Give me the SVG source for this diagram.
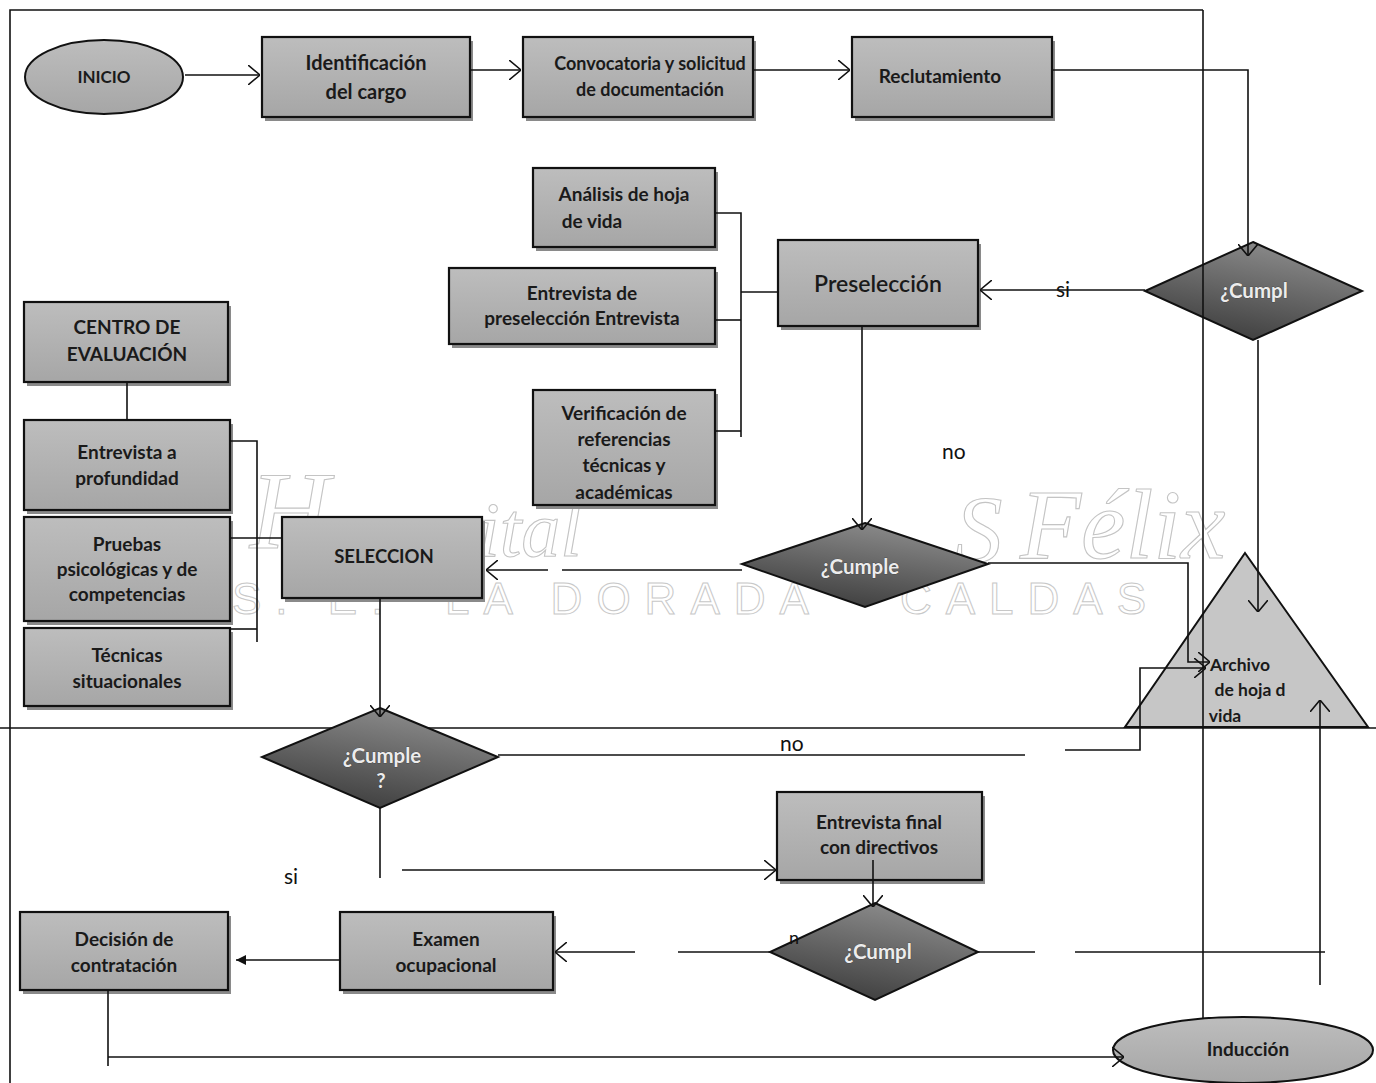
<svg xmlns="http://www.w3.org/2000/svg" width="1376" height="1083" viewBox="0 0 1376 1083">
<defs>
<style>
.box{fill:url(#boxg);stroke:#111;stroke-width:2.2}
.shadow{fill:#8a8a8a}
.dia{fill:url(#diag);stroke:#111;stroke-width:2}
.t{font-family:Lato,"Open Sans","Liberation Sans",sans-serif;font-weight:700;fill:#1a1a1a;text-anchor:middle;font-size:19px}
.dt{font-family:Lato,"Open Sans","Liberation Sans",sans-serif;font-weight:700;fill:#ececec;stroke:#333;stroke-width:0.6;paint-order:stroke;text-anchor:middle;font-size:20.5px}
.lbl{font-family:Lato,"Open Sans","Liberation Sans",sans-serif;font-weight:400;fill:#111;font-size:21px}
.c{fill:none;stroke:#111;stroke-width:1.6}
.wm{font-family:"Liberation Serif",serif;font-style:italic;fill:none;stroke:#c4c4c4;stroke-width:1.1}
.wm2{font-family:"Liberation Sans",sans-serif;fill:none;stroke:#c8c8c8;stroke-width:1}
</style>
<linearGradient id="boxg" x1="0" y1="0" x2="0" y2="1">
<stop offset="0" stop-color="#bdbdbd"/><stop offset="1" stop-color="#a6a6a6"/>
</linearGradient>
<linearGradient id="diag" x1="0.7" y1="0" x2="0.3" y2="1">
<stop offset="0" stop-color="#8e8e8e"/><stop offset="1" stop-color="#3c3c3c"/>
</linearGradient>
<marker id="arr" viewBox="0 0 12 20" refX="12" refY="10" markerWidth="12" markerHeight="20" markerUnits="userSpaceOnUse" orient="auto">
<path d="M0,0 L12,10 L0,20" fill="none" stroke="#111" stroke-width="1.6"/>
</marker>
<marker id="tri" viewBox="0 0 10 10" refX="10" refY="5" markerWidth="10" markerHeight="12" markerUnits="userSpaceOnUse" orient="auto">
<path d="M0,0 L10,5 L0,10 Z" fill="#111"/>
</marker>
<clipPath id="clipVer"><rect x="534" y="391" width="180" height="108"/></clipPath>
<clipPath id="clipArch"><rect x="1120" y="550" width="250" height="176"/></clipPath>
</defs>
<rect width="1376" height="1083" fill="#fff"/>

<g id="watermark">
<text class="wm" x="250" y="548" font-size="110">H</text>
<text class="wm" x="478" y="556" font-size="78">ital</text>
<text class="wm" x="955" y="562" font-size="95">S</text>
<text class="wm" x="1020" y="558" font-size="100">Félix</text>
<text class="wm2" x="232" y="614" font-size="44" letter-spacing="14">S. E.</text>
<text class="wm2" x="445" y="614" font-size="44" letter-spacing="14">LA DORADA</text>
<text class="wm2" x="900" y="614" font-size="44" letter-spacing="14">CALDAS</text>
</g>

<g id="frame">
<path class="c" d="M10,1083 V10 H1203"/>
<path class="c" d="M0,728 H1376"/>
</g>

<g id="inicio">
<ellipse cx="104" cy="77" rx="79" ry="37" fill="url(#boxg)" stroke="#111" stroke-width="2"/>
<text class="t" x="104" y="83" style="font-size:17px">INICIO</text>
</g>

<g id="identificacion">
<rect class="shadow" x="265" y="41" width="208" height="80"/>
<rect class="box" x="262" y="37" width="208" height="80"/>
<text class="t" x="366" y="70" style="font-size:20px">Identificación</text>
<text class="t" x="366" y="99" style="font-size:20px">del cargo</text>
</g>

<g id="convocatoria">
<rect class="shadow" x="526" y="41" width="230" height="80"/>
<rect class="box" x="523" y="37" width="230" height="80"/>
<text class="t" x="650" y="70" style="font-size:18px">Convocatoria y solicitud</text>
<text class="t" x="650" y="96" style="font-size:18px">de documentación</text>
</g>

<g id="reclutamiento">
<rect class="shadow" x="855" y="41" width="200" height="80"/>
<rect class="box" x="852" y="37" width="200" height="80"/>
<text class="t" x="940" y="83">Reclutamiento</text>
</g>

<g id="cumple1">
<polygon class="dia" points="1253,242 1362,291 1253,340 1145,291"/>
<text class="dt" x="1254" y="298">¿Cumpl</text>
</g>

<g id="preseleccion">
<rect class="shadow" x="781" y="244" width="200" height="86"/>
<rect class="box" x="778" y="240" width="200" height="86"/>
<text class="t" x="878" y="292" style="font-size:23px;font-weight:600">Preselección</text>
</g>

<g id="analisis">
<rect class="shadow" x="536" y="172" width="182" height="79"/>
<rect class="box" x="533" y="168" width="182" height="79"/>
<text class="t" x="624" y="201">Análisis  de  hoja</text>
<text class="t" x="592" y="228">de  vida</text>
</g>

<g id="entrevista-presel">
<rect class="shadow" x="452" y="272" width="266" height="76"/>
<rect class="box" x="449" y="268" width="266" height="76"/>
<text class="t" x="582" y="300">Entrevista de</text>
<text class="t" x="582" y="325">preselección  Entrevista</text>
</g>

<g id="verificacion">
<rect class="shadow" x="536" y="394" width="182" height="115"/>
<rect class="box" x="533" y="390" width="182" height="115"/>
<g clip-path="url(#clipVer)">
<text class="t" x="624" y="420">Verificación de</text>
<text class="t" x="624" y="446">referencias</text>
<text class="t" x="624" y="472">técnicas y</text>
<text class="t" x="624" y="499">académicas</text>
</g>
</g>

<g id="centro">
<rect class="shadow" x="27" y="306" width="204" height="80"/>
<rect class="box" x="24" y="302" width="204" height="80"/>
<text class="t" x="127" y="334">CENTRO DE</text>
<text class="t" x="127" y="361">EVALUACIÓN</text>
</g>

<g id="entrevista-prof">
<rect class="shadow" x="27" y="424" width="206" height="90"/>
<rect class="box" x="24" y="420" width="206" height="90"/>
<text class="t" x="127" y="459">Entrevista a</text>
<text class="t" x="127" y="485">profundidad</text>
</g>

<g id="pruebas">
<rect class="shadow" x="27" y="521" width="206" height="104"/>
<rect class="box" x="24" y="517" width="206" height="104"/>
<text class="t" x="127" y="551">Pruebas</text>
<text class="t" x="127" y="576">psicológicas y de</text>
<text class="t" x="127" y="601">competencias</text>
</g>

<g id="tecnicas">
<rect class="shadow" x="27" y="632" width="206" height="78"/>
<rect class="box" x="24" y="628" width="206" height="78"/>
<text class="t" x="127" y="662">Técnicas</text>
<text class="t" x="127" y="688">situacionales</text>
</g>

<g id="seleccion">
<rect class="shadow" x="285" y="521" width="200" height="81"/>
<rect class="box" x="282" y="517" width="200" height="81"/>
<text class="t" x="384" y="563" style="font-size:18.5px">SELECCION</text>
</g>

<g id="cumple2">
<polygon class="dia" points="865,523 988,564 865,607 742,564"/>
<text class="dt" x="860" y="574">¿Cumple</text>
</g>

<g id="archivo">
<polygon points="1245,553 1368,727 1125,727" fill="#c6c6c6" stroke="#111" stroke-width="2"/>
<g clip-path="url(#clipArch)">
<text class="t" x="1240" y="671" style="font-size:17.5px">Archivo</text>
<text class="t" x="1250" y="696" style="font-size:17.5px">de hoja d</text>
<text class="t" x="1225" y="722" style="font-size:17.5px">vida</text>
</g>
</g>

<g id="cumple3">
<polygon class="dia" points="380,708 498,757 380,808 262,757"/>
<text class="dt" x="382" y="763">¿Cumple</text>
<text class="dt" x="381" y="788">?</text>
</g>

<g id="entrevista-final">
<rect class="shadow" x="780" y="796" width="205" height="88"/>
<rect class="box" x="777" y="792" width="205" height="88"/>
<text class="t" x="879" y="829">Entrevista final</text>
<text class="t" x="879" y="854">con directivos</text>
</g>

<g id="cumple4">
<polygon class="dia" points="875,903 978,952 875,1000 770,952"/>
<text class="dt" x="878" y="959">¿Cumpl</text>
<text class="lbl" x="789" y="944" style="font-size:18px">n</text>
</g>

<g id="examen">
<rect class="shadow" x="343" y="916" width="213" height="78"/>
<rect class="box" x="340" y="912" width="213" height="78"/>
<text class="t" x="446" y="946">Examen</text>
<text class="t" x="446" y="972">ocupacional</text>
</g>

<g id="decision">
<rect class="shadow" x="23" y="916" width="208" height="78"/>
<rect class="box" x="20" y="912" width="208" height="78"/>
<text class="t" x="124" y="946">Decisión de</text>
<text class="t" x="124" y="972">contratación</text>
</g>

<g id="induccion">
<ellipse cx="1243" cy="1050" rx="130" ry="33" fill="url(#boxg)" stroke="#111" stroke-width="2"/>
<text class="t" x="1248" y="1056">Inducción</text>
</g>

<g id="connectors">
<path class="c" d="M185,75 H260" marker-end="url(#arr)"/>
<path class="c" d="M470,70 H521" marker-end="url(#arr)"/>
<path class="c" d="M753,70 H850" marker-end="url(#arr)"/>
<path class="c" d="M1052,70 H1248 V256" marker-end="url(#arr)"/>
<path class="c" d="M1203,10 V1019"/>
<path class="c" d="M1145,290 H980" marker-end="url(#arr)"/>
<path class="c" d="M778,292 H741"/>
<path class="c" d="M715,213 H741 V437"/>
<path class="c" d="M715,320 H741"/>
<path class="c" d="M715,431 H741"/>
<path class="c" d="M862,326 V530" marker-end="url(#arr)"/>
<path class="c" d="M742,570 H562"/>
<path class="c" d="M548,570 H486" marker-end="url(#arr)"/>
<path class="c" d="M988,563 H1188 V662 H1210" marker-end="url(#arr)"/>
<path class="c" d="M1258,340 V612" marker-end="url(#arr)"/>
<path class="c" d="M127,382 V420"/>
<path class="c" d="M230,441 H257 V642"/>
<path class="c" d="M230,538 H282"/>
<path class="c" d="M230,629 H257"/>
<path class="c" d="M380,598 V717" marker-end="url(#arr)"/>
<path class="c" d="M498,755 H1025"/>
<path class="c" d="M1065,750 H1140 V668 H1206" marker-end="url(#arr)"/>
<path class="c" d="M380,808 V878"/>
<path class="c" d="M402,870 H776" marker-end="url(#arr)"/>
<path class="c" d="M873,860 V907" marker-end="url(#arr)"/>
<path class="c" d="M770,952 H678"/>
<path class="c" d="M635,952 H555" marker-end="url(#arr)"/>
<path class="c" d="M978,952 H1035"/>
<path class="c" d="M1075,952 H1325"/>
<path class="c" d="M1320,985 V700" marker-end="url(#arr)"/>
<path class="c" d="M340,960 H236" marker-end="url(#tri)"/>
<path class="c" d="M108,990 V1066"/>
<path class="c" d="M108,1057 H1124" marker-end="url(#arr)"/>
</g>

<g id="labels">
<text class="lbl" x="1056" y="297">si</text>
<text class="lbl" x="942" y="459">no</text>
<text class="lbl" x="780" y="751">no</text>
<text class="lbl" x="284" y="884">si</text>
</g>
</svg>
